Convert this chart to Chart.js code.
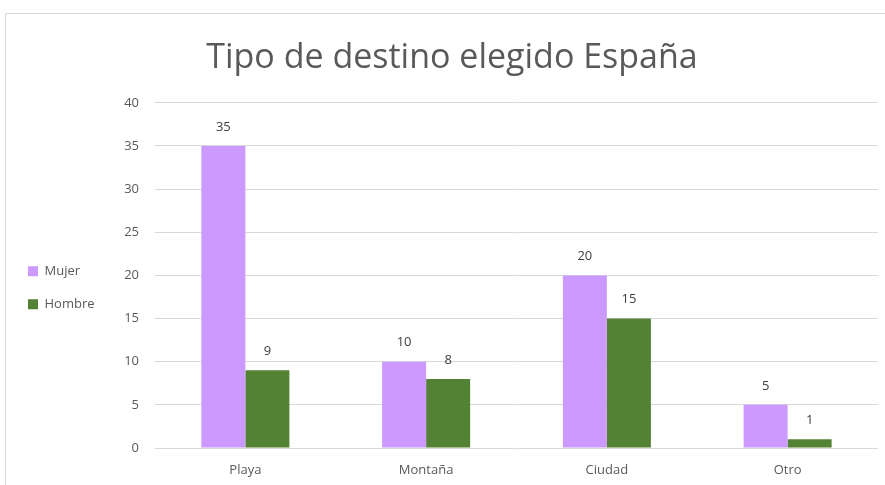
<!DOCTYPE html>
<html>
<head>
<meta charset="utf-8">
<script src="https://cdn.jsdelivr.net/npm/chart.js@4.4.1/dist/chart.umd.min.js"></script>
<style>
  html, body { margin: 0; padding: 0; background: #fff; overflow: hidden; }
  #frame { position: absolute; left: 5px; top: 13px; width: 920px; height: 500px;
           border-top: 1px solid #d9d9d9; border-left: 1px solid #d9d9d9; }
  #wrap { position: absolute; left: 0; top: 0; width: 905px; height: 485px; }
</style>
</head>
<body>
<div id="frame"></div>
<div id="wrap"><canvas id="grafico"></canvas></div>
<script>
const categorias = ['Playa', 'Montaña', 'Ciudad', 'Otro'];
const mujer = [35, 10, 20, 5];
const hombre = [9, 8, 15, 1];
const tituloTexto = 'Tipo de destino elegido España';

const gris = '#595959';
const fuente = "'Open Sans', sans-serif";
const padIzq = 8;

// etiquetas de valor encima de cada barra
const etiquetasValor = {
  id: 'etiquetasValor',
  afterLayout(chart) {
    // el título de Excel va un poco a la derecha del centro
    if (chart.titleBlock) {
      chart.titleBlock.left += 9;
      chart.titleBlock.right += 9;
    }
  },
  afterDatasetsDraw(chart) {
    const ctx = chart.ctx;
    ctx.save();
    ctx.font = '13px ' + fuente;
    ctx.fillStyle = '#404040';
    ctx.textAlign = 'center';
    ctx.textBaseline = 'middle';
    chart.data.datasets.forEach((ds, i) => {
      chart.getDatasetMeta(i).data.forEach((bar, j) => {
        ctx.fillText(ds.data[j], bar.x, bar.y - 19);
      });
    });
    ctx.restore();
  }
};

const ctx = document.getElementById('grafico').getContext('2d');
new Chart(ctx, {
  type: 'bar',
  data: {
    labels: categorias,
    datasets: [
      { label: 'Mujer', data: mujer, backgroundColor: '#CC99FF' },
      { label: 'Hombre', data: hombre, backgroundColor: '#548235' }
    ]
  },
  options: {
    responsive: true,
    maintainAspectRatio: false,
    animation: false,
    layout: { padding: { left: padIzq, right: 27, top: 0, bottom: 7 } },
    datasets: { bar: { categoryPercentage: 0.487, barPercentage: 1 } },
    scales: {
      x: {
        grid: { display: false, drawTicks: false },
        border: { display: false },
        ticks: { color: gris, font: { family: fuente, size: 13 }, padding: 14 },
        afterFit(scale) { scale.height = 30; }
      },
      y: {
        min: 0,
        max: 40,
        ticks: { stepSize: 5, color: gris, font: { family: fuente, size: 13 }, padding: 16 },
        grid: { color: '#d9d9d9', drawTicks: false },
        border: { display: false },
        afterFit(scale) {
          const lg = scale.chart.legend;
          if (lg && lg.width) scale.width = 155 - padIzq - lg.width;
        }
      }
    },
    plugins: {
      title: {
        display: true,
        text: tituloTexto,
        color: gris,
        font: { family: fuente, size: 34, weight: 'normal' },
        padding: { top: 38, bottom: 24 }
      },
      legend: {
        position: 'left',
        title: { display: true, text: ' ', padding: 41, font: { size: 13 } },
        labels: {
          boxWidth: 10,
          boxHeight: 10,
          padding: 20,
          color: gris,
          font: { family: fuente, size: 13 }
        }
      },
      tooltip: { enabled: false }
    }
  },
  plugins: [etiquetasValor]
});
</script>
</body>
</html>
